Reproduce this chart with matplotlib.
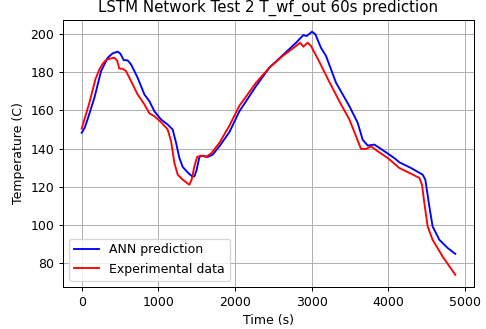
# %%
# LSTM network test 2 - predicted vs measured T_wf_out (60 s ahead)
import matplotlib
matplotlib.use("Agg")
import matplotlib.pyplot as plt

# %%
# Values
t_ann = [0, 40, 78, 166, 253, 339, 404, 470, 505, 548, 600, 644, 730, 818, 883, 948,
         1035, 1122, 1187, 1231, 1274, 1317, 1382, 1440, 1470, 1500, 1535, 1578,
         1643, 1708, 1796, 1926, 2057, 2274, 2448, 2621, 2796, 2891, 2934, 3004,
         3048, 3120, 3187, 3317, 3491, 3600, 3664, 3730, 3817, 3904, 4013, 4091,
         4143, 4295, 4447, 4482, 4534, 4577, 4665, 4773, 4873]
y_ann = [148.3, 151.0, 155.5, 166.7, 180.7, 187.7, 190.0, 190.9, 189.8, 186.5, 186.3,
         184.2, 177.2, 168.4, 164.9, 159.6, 155.3, 152.6, 150.0, 143.0, 135.1,
         130.4, 127.5, 125.4, 125.4, 128.9, 135.6, 136.3, 135.6, 136.8, 141.2,
         148.6, 159.6, 172.8, 182.5, 189.0, 195.6, 199.6, 199.1, 201.4, 200.0,
         193.0, 188.6, 174.6, 162.3, 153.5, 144.7, 141.6, 142.1, 139.8, 136.8,
         134.6, 132.8, 129.8, 126.3, 123.7, 109.6, 99.1, 92.1, 87.8, 84.7]

t_exp = [0, 100, 180, 231, 275, 318, 361, 426, 461, 491, 535, 578, 644, 730, 818, 883,
         948, 1035, 1122, 1166, 1209, 1252, 1317, 1404, 1434, 1470, 1505, 1557, 1622,
         1687, 1796, 1926, 2057, 2274, 2448, 2621, 2796, 2848, 2891, 2947, 2991,
         3100, 3230, 3360, 3491, 3578, 3643, 3708, 3774, 3860, 3990, 4143, 4295,
         4404, 4439, 4469, 4512, 4577, 4707, 4873]
y_exp = [150.5, 164.0, 176.5, 181.6, 184.6, 186.5, 187.2, 187.7, 186.3, 182.0, 181.9,
         180.7, 175.4, 168.4, 163.2, 158.5, 157.0, 153.9, 150.0, 143.8, 132.5,
         126.3, 123.7, 121.0, 123.7, 130.7, 135.6, 136.3, 135.6, 137.4, 143.0,
         152.0, 162.5, 174.6, 182.5, 188.6, 193.9, 195.6, 193.5, 195.6, 193.9,
         185.5, 175.0, 164.9, 155.3, 146.5, 139.8, 139.8, 141.2, 138.6, 135.1,
         129.8, 126.8, 124.6, 121.0, 111.4, 99.1, 92.1, 83.3, 73.7]

# %%
# Plot
fig = plt.figure(figsize=(486 / 90, 329 / 90), dpi=90)
ax = fig.add_axes([63 / 486, 1 - 287 / 329, 411 / 486, 267.5 / 329])

ax.plot(t_ann, y_ann, color='b', linewidth=1.5, label='ANN prediction')
ax.plot(t_exp, y_exp, color='r', linewidth=1.5, label='Experimental data')

ax.set_title('LSTM Network Test 2 T_wf_out 60s prediction')
ax.set_xlabel('Time (s)')
ax.set_ylabel('Temperature (C)')
ax.set_xticks([0, 1000, 2000, 3000, 4000, 5000])
ax.set_yticks([80, 100, 120, 140, 160, 180, 200])
ax.legend(loc='lower left')
ax.grid(True)

fig.savefig('out.png', dpi=90)
